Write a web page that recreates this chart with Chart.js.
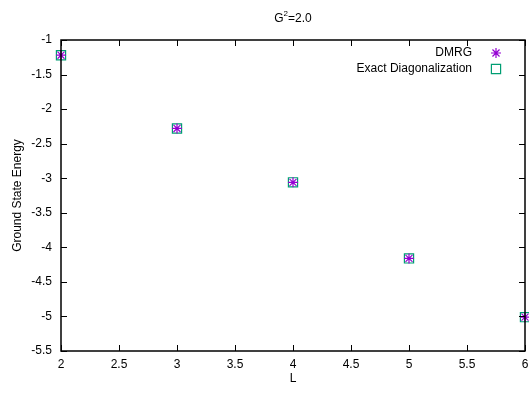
<!DOCTYPE html>
<html>
<head>
<meta charset="utf-8">
<script src="https://cdn.jsdelivr.net/npm/chart.js@4"></script>
<style>
  html, body { margin: 0; padding: 0; background: #fff; overflow: hidden; }
  #wrap { width: 529px; height: 394px; position: relative; }
</style>
</head>
<body>
<div id="wrap"><canvas id="chart"></canvas></div>
<script>
"use strict";

// data
const lengths = [2, 3, 4, 5, 6];
const dmrgEnergy = [-1.22, -2.28, -3.06, -4.16, -5.01];
const exactEnergy = [-1.22, -2.28, -3.06, -4.16, -5.01];

const xTicks = [2, 2.5, 3, 3.5, 4, 4.5, 5, 5.5, 6];
const yTicks = [-5.5, -5, -4.5, -4, -3.5, -3, -2.5, -2, -1.5, -1];

const seriesNames = ['DMRG', 'Exact Diagonalization'];
const titleBase = 'G';
const titleSup = '2';
const titleRest = '=2.0';

const FONT = '"Liberation Sans", Arial, sans-serif';
const PURPLE = '#9400d3';
const TEAL = '#009e73';

function toPoints(xs, ys) {
  return xs.map((x, i) => ({ x: x, y: ys[i] }));
}

// gnuplot style frame with inward ticks on all four sides
const framePlugin = {
  id: 'frame',
  afterDraw(chart) {
    const ctx = chart.ctx;
    const a = chart.chartArea;
    const xs = chart.scales.x;
    const ys = chart.scales.y;
    const len = 6;
    ctx.save();
    ctx.strokeStyle = '#000';
    ctx.lineWidth = 1;
    ctx.beginPath();
    xTicks.forEach(v => {
      const px = Math.round(xs.getPixelForValue(v)) + 0.5;
      ctx.moveTo(px, a.bottom); ctx.lineTo(px, a.bottom - len);
      ctx.moveTo(px, a.top); ctx.lineTo(px, a.top + len);
    });
    yTicks.forEach(v => {
      const py = Math.round(ys.getPixelForValue(v)) + 0.5;
      ctx.moveTo(a.left, py); ctx.lineTo(a.left + len, py);
      ctx.moveTo(a.right, py); ctx.lineTo(a.right - len, py);
    });
    ctx.stroke();
    ctx.lineWidth = 1.5;
    ctx.strokeRect(a.left, a.top, a.right - a.left, a.bottom - a.top);
    ctx.restore();
  }
};

// title and legend drawn like gnuplot: text left of the marker
const textPlugin = {
  id: 'texts',
  afterDraw(chart) {
    const ctx = chart.ctx;
    const a = chart.chartArea;
    ctx.save();
    ctx.fillStyle = '#000';
    ctx.textBaseline = 'middle';

    // title
    ctx.font = '12px ' + FONT;
    const supFont = '8px ' + FONT;
    const w1 = ctx.measureText(titleBase).width;
    const w3 = ctx.measureText(titleRest).width;
    ctx.font = supFont;
    const w2 = ctx.measureText(titleSup).width;
    let tx = (a.left + a.right) / 2 - (w1 + w2 + w3) / 2;
    const ty = 19;
    ctx.textAlign = 'left';
    ctx.font = '12px ' + FONT;
    ctx.fillText(titleBase, tx, ty);
    ctx.font = supFont;
    ctx.fillText(titleSup, tx + w1, ty - 5);
    ctx.font = '12px ' + FONT;
    ctx.fillText(titleRest, tx + w1 + w2, ty);

    // legend
    ctx.textAlign = 'right';
    chart.data.datasets.forEach((ds, i) => {
      const y = 53 + i * 16;
      ctx.fillStyle = '#000';
      ctx.fillText(ds.label, 472, y);
      ctx.fillStyle = ds.backgroundColor;
      ctx.strokeStyle = ds.borderColor;
      ctx.lineWidth = 1.2;
      Chart.helpers.drawPoint(ctx, {
        pointStyle: ds.pointStyle,
        radius: ds.pointRadius,
        borderWidth: 1.2
      }, 496, y);
    });
    ctx.restore();
  }
};

const chart = new Chart(document.getElementById('chart'), {
  type: 'scatter',
  data: {
    datasets: [
      {
        label: seriesNames[0],
        data: toPoints(lengths, dmrgEnergy),
        pointStyle: 'star',
        pointRadius: 5,
        borderColor: PURPLE,
        backgroundColor: PURPLE,
        borderWidth: 1.2,
        order: 0
      },
      {
        label: seriesNames[1],
        data: toPoints(lengths, exactEnergy),
        pointStyle: 'rect',
        pointRadius: 6.5,
        borderColor: TEAL,
        backgroundColor: 'rgba(0,0,0,0)',
        borderWidth: 1.2,
        order: 1
      }
    ]
  },
  options: {
    responsive: true,
    maintainAspectRatio: false,
    animation: false,
    clip: false,
    layout: { autoPadding: false, padding: { left: 0, right: 4, top: 40, bottom: 8 } },
    plugins: {
      legend: { display: false },
      tooltip: { enabled: false }
    },
    scales: {
      x: {
        type: 'linear',
        min: 2,
        max: 6,
        afterBuildTicks(scale) { scale.ticks = xTicks.map(v => ({ value: v })); },
        afterFit(scale) { scale.height = 35; scale.paddingLeft = 0; scale.paddingRight = 0; },
        grid: { display: false, drawTicks: false },
        border: { display: false },
        ticks: { color: '#000', font: { family: FONT, size: 12 }, padding: 6, maxRotation: 0, callback: v => String(v) },
        title: { display: true, text: 'L', color: '#000', font: { family: FONT, size: 12 }, padding: { top: 2, bottom: 0 } }
      },
      y: {
        type: 'linear',
        min: -5.5,
        max: -1,
        afterBuildTicks(scale) { scale.ticks = yTicks.map(v => ({ value: v })); },
        afterFit(scale) { scale.width = 61; scale.paddingTop = 0; scale.paddingBottom = 0; },
        grid: { display: false, drawTicks: false },
        border: { display: false },
        ticks: { color: '#000', font: { family: FONT, size: 12 }, padding: 9, callback: v => String(v) },
        title: { display: true, text: 'Ground State Energy', color: '#000', font: { family: FONT, size: 12 }, padding: { top: 10, bottom: 0 } }
      }
    }
  },
  plugins: [framePlugin, textPlugin]
});
</script>
</body>
</html>
